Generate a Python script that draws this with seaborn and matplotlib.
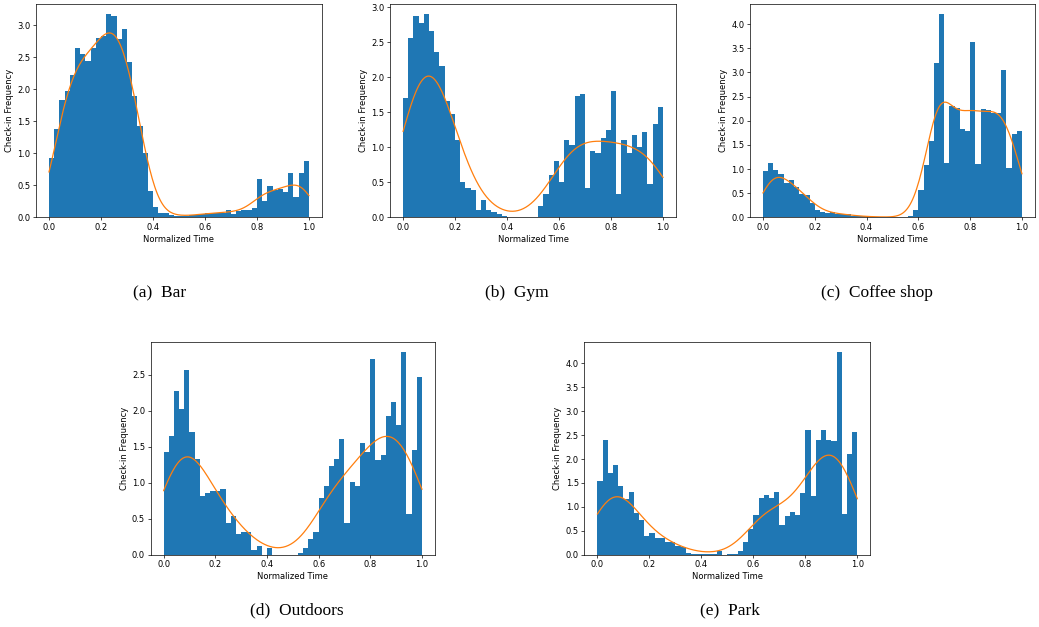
##Check-in time distributions for five venue categories
import numpy as np
import pandas as pd
import matplotlib
matplotlib.use('Agg')
import matplotlib.pyplot as plt
import seaborn as sns

##Data: density of check-ins per bin (50 bins on normalized time 0..1)
bin_edges = np.linspace(0, 1, 51)
bin_centers = (bin_edges[:-1] + bin_edges[1:]) / 2

bar_freq = [0.93, 1.38, 1.84, 1.97, 2.23, 2.64, 2.55, 2.44, 2.64, 2.81,
            2.83, 3.17, 3.14, 2.78, 2.94, 2.43, 1.89, 1.42, 1.01, 0.41,
            0.16, 0.06, 0.06, 0.03, 0.02, 0.02, 0.02, 0.03, 0.04, 0.05,
            0.07, 0.06, 0.07, 0.07, 0.11, 0.05, 0.10, 0.12, 0.12, 0.15,
            0.60, 0.25, 0.49, 0.42, 0.44, 0.40, 0.70, 0.32, 0.70, 0.88]

gym_freq = [1.70, 2.57, 2.88, 2.78, 2.90, 2.66, 2.37, 2.16, 1.67, 1.48,
            1.10, 0.51, 0.42, 0.39, 0.11, 0.25, 0.11, 0.08, 0.05, 0.02,
            0.00, 0.00, 0.00, 0.00, 0.00, 0.00, 0.16, 0.33, 0.61, 0.81,
            0.51, 1.10, 1.04, 1.73, 1.76, 0.42, 0.95, 0.92, 1.14, 1.25,
            1.81, 0.33, 1.10, 0.92, 1.17, 1.01, 1.22, 0.48, 1.34, 1.57]

coffee_freq = [0.96, 1.13, 0.98, 0.90, 0.71, 0.77, 0.63, 0.48, 0.46, 0.30,
               0.15, 0.11, 0.08, 0.11, 0.06, 0.06, 0.07, 0.03, 0.02, 0.02,
               0.01, 0.01, 0.01, 0.01, 0.00, 0.00, 0.00, 0.00, 0.02, 0.15,
               0.57, 1.09, 1.58, 3.20, 4.20, 1.13, 2.31, 2.27, 1.83, 1.79,
               3.62, 1.11, 2.25, 2.23, 2.17, 2.15, 3.06, 1.02, 1.73, 1.79]

outdoors_freq = [1.43, 1.65, 2.27, 2.02, 2.57, 1.70, 1.33, 0.81, 0.86, 0.88,
                 0.88, 0.91, 0.44, 0.54, 0.29, 0.31, 0.31, 0.07, 0.12, 0.00,
                 0.10, 0.00, 0.00, 0.00, 0.00, 0.00, 0.03, 0.10, 0.22, 0.32,
                 0.79, 0.95, 1.23, 1.33, 1.61, 0.44, 1.01, 0.95, 1.55, 1.43,
                 2.72, 1.31, 1.38, 1.93, 2.12, 1.81, 2.82, 0.57, 1.45, 2.47]

park_freq = [1.54, 2.40, 1.70, 1.88, 1.44, 1.17, 1.31, 0.87, 0.72, 0.40,
             0.46, 0.34, 0.35, 0.27, 0.26, 0.19, 0.17, 0.03, 0.01, 0.02,
             0.01, 0.02, 0.01, 0.08, 0.00, 0.01, 0.01, 0.08, 0.27, 0.54,
             0.82, 1.19, 1.25, 1.19, 1.32, 0.63, 0.80, 0.90, 0.84, 1.30,
             2.60, 1.23, 2.39, 2.60, 2.39, 2.38, 4.24, 0.86, 2.10, 2.56]

captions = ['(a)  Bar', '(b)  Gym', '(c)  Coffee shop', '(d)  Outdoors', '(e)  Park']
panels = [bar_freq, gym_freq, coffee_freq, outdoors_freq, park_freq]

#kde smoothing factor per panel (multiplies the weighted std)
kde_bw = [0.17, 0.215, 0.15, 0.22, 0.20]

#axes boxes [left, bottom, width, height] in figure fractions
boxes = [[0.0346, 0.6534, 0.2753, 0.3397],
         [0.3754, 0.6534, 0.2753, 0.3397],
         [0.7218, 0.6534, 0.2743, 0.3397],
         [0.1450, 0.1153, 0.2736, 0.3397],
         [0.5624, 0.1153, 0.2753, 0.3397]]
caption_xy = [(160, 293), (517, 293), (877, 293), (297, 610), (730, 610)]

##Style: shrunken default matplotlib look
sns.set_style('ticks')
plt.rcParams.update({
    'font.family': ['DejaVu Sans'],
    'axes.edgecolor': 'black',
    'axes.linewidth': 0.5,
    'xtick.major.size': 2.0,
    'ytick.major.size': 2.0,
    'xtick.major.width': 0.5,
    'ytick.major.width': 0.5,
    'xtick.major.pad': 2.0,
    'ytick.major.pad': 2.0,
    'xtick.labelsize': 6,
    'ytick.labelsize': 6,
    'axes.labelsize': 6,
    'axes.labelpad': 2.3,
    'xtick.color': 'black',
    'ytick.color': 'black',
    'text.color': 'black',
    'axes.labelcolor': 'black',
})

fig = plt.figure(figsize=(10.39, 6.27), dpi=100)

for freq, bw, box, cap, (cx, cy) in zip(panels, kde_bw, boxes, captions, caption_xy):
    df = pd.DataFrame({'time': bin_centers, 'freq': freq})
    ax = fig.add_axes(box)
    sns.histplot(data=df, x='time', weights='freq', bins=bin_edges.tolist(),
                 stat='count', color='#1f77b4', alpha=1, linewidth=0, ax=ax)
    sns.kdeplot(data=df, x='time', weights='freq', bw_method=bw, clip=(0, 1),
                color='#ff7f0e', linewidth=0.9, ax=ax)
    ax.set_xlim(-0.05, 1.05)
    ax.set_ylim(0, max(freq) * 1.05)
    ax.set_xticks([0.0, 0.2, 0.4, 0.6, 0.8, 1.0])
    ax.set_xlabel('Normalized Time')
    ax.set_ylabel('Check-in Frequency')
    fig.text(cx / 1039, 1 - cy / 627, cap, ha='center', va='center',
             fontsize=12.5, family=['Liberation Serif', 'DejaVu Serif'])

fig.savefig('out.png', dpi=100)
